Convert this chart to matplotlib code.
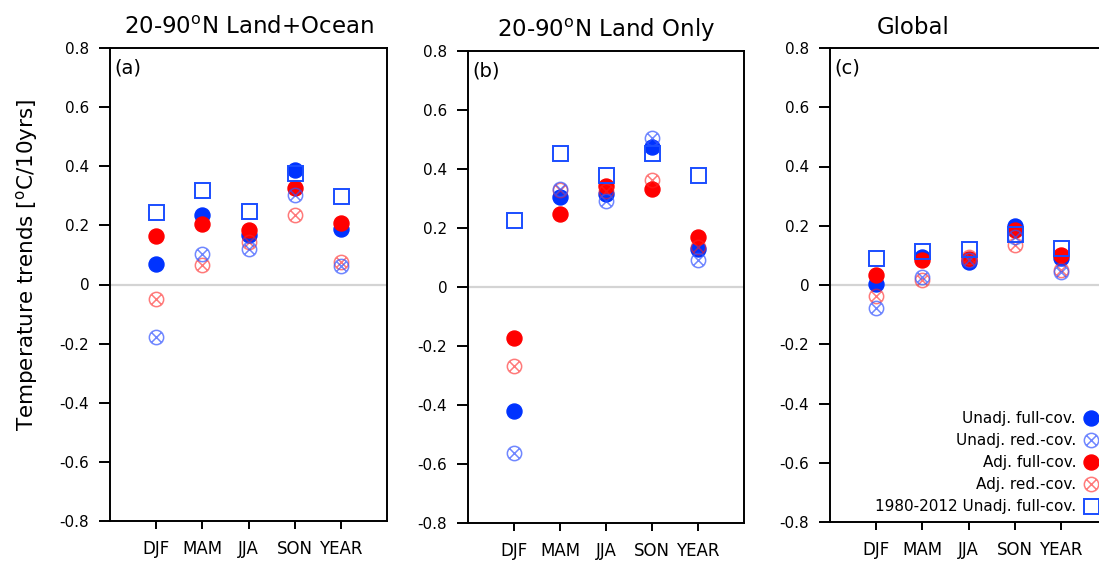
import numpy as np
import matplotlib
matplotlib.use("Agg")
import matplotlib.pyplot as plt
from matplotlib.path import Path

plt.rcParams['font.family'] = ['DejaVu Sans']
plt.rcParams['mathtext.fontset'] = 'dejavusans'
plt.rcParams['mathtext.default'] = 'regular'

seasons = ['DJF', 'MAM', 'JJA', 'SON', 'YEAR']

# (a) 20-90N land + ocean
a_unadj_full = [0.070, 0.234, 0.166, 0.389, 0.189]
a_unadj_red = [-0.179, 0.104, 0.121, 0.302, 0.062]
a_adj_full = [0.163, 0.203, 0.185, 0.328, 0.208]
a_adj_red = [-0.049, 0.067, 0.143, 0.234, 0.076]
a_recent = [0.245, 0.319, 0.249, 0.378, 0.298]

# (b) 20-90N land only
b_unadj_full = [-0.419, 0.306, 0.315, 0.475, 0.129]
b_unadj_red = [-0.562, 0.332, 0.292, 0.506, 0.090]
b_adj_full = [-0.174, 0.248, 0.343, 0.332, 0.171]
b_adj_red = [-0.267, 0.330, 0.326, 0.362, 0.135]
b_recent = [0.228, 0.455, 0.380, 0.455, 0.380]

# (c) global
c_unadj_full = [0.003, 0.096, 0.079, 0.200, 0.090]
c_unadj_red = [-0.079, 0.028, 0.085, 0.162, 0.045]
c_adj_full = [0.034, 0.085, 0.087, 0.186, 0.102]
c_adj_red = [-0.037, 0.017, 0.095, 0.136, 0.051]
c_recent = [0.090, 0.115, 0.122, 0.173, 0.125]

titles = ['20-90$^{o}$N Land+Ocean', '20-90$^{o}$N Land Only', 'Global']
panel_tags = ['(a)', '(b)', '(c)']
yticks = [-0.8, -0.6, -0.4, -0.2, 0, 0.2, 0.4, 0.6, 0.8]
ytick_labels = ['-0.8', '-0.6', '-0.4', '-0.2', '0', '0.2', '0.4', '0.6', '0.8']

BLUE = '#0033ff'
RED = '#ff0000'

# circle with a cross inside
d = np.sqrt(0.5)
cross = Path([[-d, -d], [d, d], [-d, d], [d, -d]],
             [Path.MOVETO, Path.LINETO, Path.MOVETO, Path.LINETO])
otimes = Path.make_compound_path(Path.unit_circle(), cross)

W, H = 1099, 561
fig = plt.figure(figsize=(W / 100, H / 100), dpi=100)


def box(l, t, r, b):
    return [l / W, 1 - b / H, (r - l) / W, (b - t) / H]


boxes = [box(110, 48, 387, 521), box(468, 51, 744, 523), box(830, 48, 1107, 522)]
data = [
    (a_unadj_full, a_unadj_red, a_adj_full, a_adj_red, a_recent),
    (b_unadj_full, b_unadj_red, b_adj_full, b_adj_red, b_recent),
    (c_unadj_full, c_unadj_red, c_adj_full, c_adj_red, c_recent),
]
x = np.arange(1, len(seasons) + 1)

for i in range(3):
    ax = fig.add_axes(boxes[i])
    uf, ur, af, ar, rc = data[i]
    ax.axhline(0, color='#d4d4d4', lw=1.6, zorder=0.5)
    ms = 10.8
    h1, = ax.plot(x, uf, 'o', ms=ms, color=BLUE, mec=BLUE, ls='none', zorder=2,
                  label='Unadj. full-cov.')
    h3, = ax.plot(x, af, 'o', ms=ms, color=RED, mec=RED, ls='none', zorder=3,
                  label='Adj. full-cov.')
    h4, = ax.plot(x, ar, marker=otimes, ms=ms - 0.5, mfc='none', mec='#ff2222', mew=1.1,
                  alpha=0.6, ls='none', zorder=4, label='Adj. red.-cov.')
    h2, = ax.plot(x, ur, marker=otimes, ms=ms - 0.5, mfc='none', mec='#3355ff', mew=1.1,
                  alpha=0.7, ls='none', zorder=5, label='Unadj. red.-cov.')
    h5, = ax.plot(x, rc, 's', ms=ms, mfc='none', mec='#1a4dff', mew=1.4, ls='none', zorder=6,
                  label='1980-2012 Unadj. full-cov.')

    ax.set_xlim(0, 6)
    ax.set_ylim(-0.8, 0.8)
    ax.set_xticks(x)
    ax.set_xticklabels(seasons, fontsize=12)
    ax.set_yticks(yticks)
    ax.set_yticklabels(ytick_labels, fontsize=11)
    ax.tick_params(axis='y', direction='out', length=8, width=1.4, pad=7)
    ax.tick_params(axis='x', direction='out', length=6, width=1.4, pad=8)
    for s in ax.spines.values():
        s.set_linewidth(1.4)

    tx = 0.30 if i == 2 else 0.5
    ax.set_title(titles[i], fontsize=16.5, pad=10, x=tx)
    ax.text(0.016, 0.978, panel_tags[i], transform=ax.transAxes, fontsize=14,
            ha='left', va='top')

    if i == 2:
        leg = ax.legend(handles=[h1, h2, h3, h4, h5], loc='lower right',
                        bbox_to_anchor=(1099 / W, 1 - 514 / H),
                        bbox_transform=fig.transFigure, frameon=False,
                        markerfirst=False, fontsize=11, handlelength=1.0,
                        handletextpad=0.5, labelspacing=0.45, borderpad=0,
                        borderaxespad=0)
        leg._legend_box.align = 'right'

fig.text(27 / W, 1 - 265 / H, 'Temperature trends [$^{o}$C/10yrs]', rotation=90,
         ha='center', va='center', fontsize=15.5)

fig.savefig('out.png', dpi=100)
